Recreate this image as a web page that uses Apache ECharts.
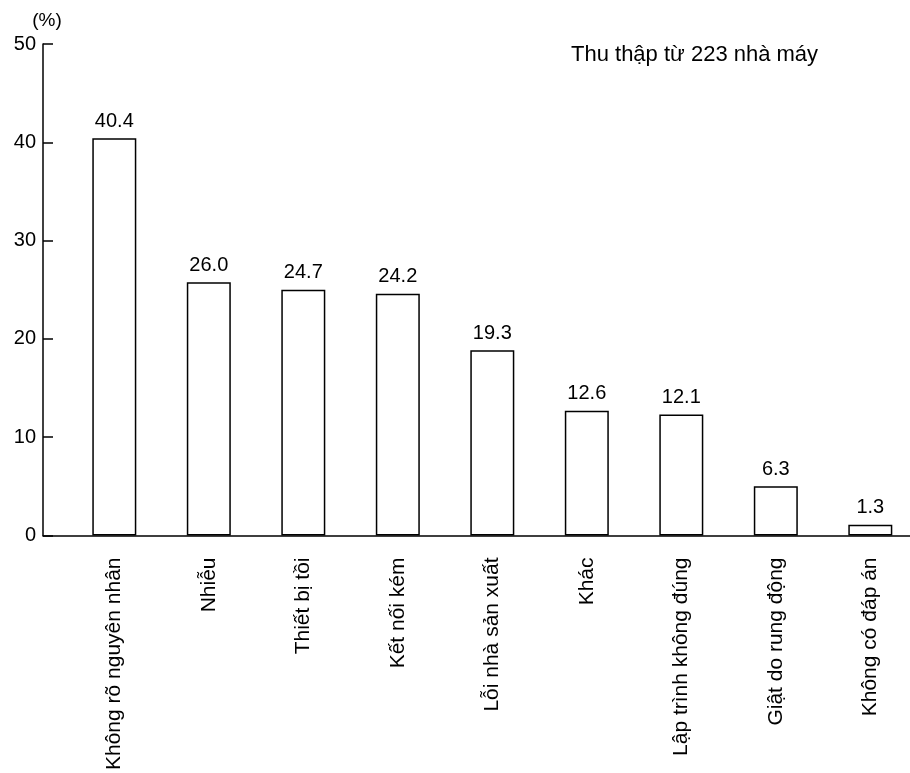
<!DOCTYPE html>
<html>
<head>
<meta charset="utf-8">
<script src="https://cdn.jsdelivr.net/npm/echarts@6/dist/echarts.min.js"></script>
<style>
  html, body { margin: 0; padding: 0; background: #fff; }
  #chart { width: 910px; height: 773px; }
</style>
</head>
<body>
<div id="chart"></div>
<script>
// Categories (x axis)
var categories = [
  'Không rõ nguyên nhân', 'Nhiễu', 'Thiết bị tồi', 'Kết nối kém', 'Lỗi nhà sản xuất',
  'Khác', 'Lập trình không đúng', 'Giật do rung động', 'Không có đáp án'
];
// Bar heights as drawn in the picture (%)
var barValues = [40.4, 25.75, 25.0, 24.6, 18.85, 12.7, 12.3, 5.0, 1.1];
// Value labels printed above the bars
var labelTexts = ['40.4', '26.0', '24.7', '24.2', '19.3', '12.6', '12.1', '6.3', '1.3'];
// Y axis ticks
var yMin = 0, yMax = 50, yStep = 10;
var yAxisName = '(%)';
var noteText = 'Thu thập từ 223 nhà máy';

var FONT = '"Liberation Sans", Arial, Helvetica, sans-serif';
var catIdx = categories.map(function (c, i) { return i; });
var barData = barValues.map(function (v, i) { return [i, v]; });

var chart = echarts.init(document.getElementById('chart'), null, { renderer: 'canvas' });
chart.setOption({
  backgroundColor: '#ffffff',
  animation: false,
  textStyle: { fontFamily: FONT, color: '#000' },
  title: {
    text: noteText,
    left: 571,
    top: 44,
    padding: 0,
    textStyle: { fontFamily: FONT, fontSize: 22, fontWeight: 'normal', color: '#000' }
  },
  grid: { left: 43, right: 0, top: 44, bottom: 237, containLabel: false },
  xAxis: {
    type: 'value',
    min: -0.7545,
    max: 8.42,
    splitLine: { show: false },
    axisLine: { show: true, onZero: false, lineStyle: { color: '#000', width: 1.5 } },
    axisTick: { show: false },
    axisLabel: {
      customValues: catIdx,
      rotate: 90,
      margin: 22,
      fontSize: 21,
      fontFamily: FONT,
      color: '#000',
      formatter: function (v) { return categories[Math.round(v)] || ''; }
    }
  },
  yAxis: {
    type: 'value',
    min: yMin,
    max: yMax,
    interval: yStep,
    name: yAxisName,
    nameLocation: 'end',
    nameGap: 14,
    nameTextStyle: { fontFamily: FONT, fontSize: 19, color: '#000', padding: [0, 0, 0, 8] },
    splitLine: { show: false },
    axisLine: { show: true, onZero: false, lineStyle: { color: '#000', width: 1.5 } },
    axisTick: { show: true, inside: true, length: 10, lineStyle: { color: '#000', width: 1.5 } },
    axisLabel: { margin: 7, fontSize: 20, fontFamily: FONT, color: '#000' }
  },
  series: [{
    type: 'bar',
    data: barData,
    barWidth: 44,
    itemStyle: { color: '#ffffff', borderColor: '#000', borderWidth: 1.5 },
    label: {
      show: true,
      position: 'top',
      distance: 7,
      fontSize: 20,
      fontFamily: FONT,
      color: '#000',
      formatter: function (p) { return labelTexts[p.dataIndex]; }
    }
  }]
});
</script>
</body>
</html>
